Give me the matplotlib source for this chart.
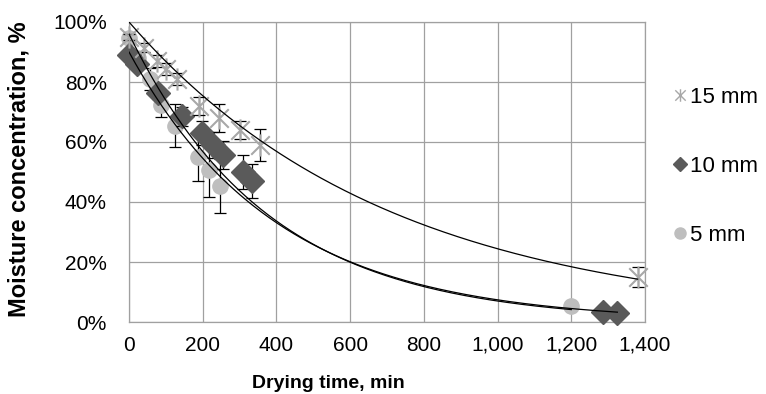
import numpy as np
import matplotlib
matplotlib.use("Agg")
import matplotlib.pyplot as plt
from matplotlib.path import Path
from matplotlib.lines import Line2D
from matplotlib.ticker import FuncFormatter, MultipleLocator

plt.rcParams['font.family'] = ['Liberation Sans', 'DejaVu Sans']

# data (time in min, moisture as fraction)
t_15 = [0, 40, 75, 100, 130, 190, 245, 300, 355, 1380]
m_15 = [0.95, 0.915, 0.87, 0.845, 0.81, 0.72, 0.68, 0.64, 0.59, 0.15]
e_15 = [0.01, 0.015, 0.02, 0.02, 0.02, 0.03, 0.045, 0.03, 0.053, 0.033]

t_10 = [0, 22, 80, 143, 197, 227, 254, 308, 335, 1285, 1325]
m_10 = [0.89, 0.86, 0.765, 0.685, 0.63, 0.59, 0.557, 0.50, 0.47, 0.035, 0.03]
e_10 = [0.01, 0.015, 0.02, 0.03, 0.04, 0.043, 0.047, 0.055, 0.058, 0.01, 0.01]

t_5 = [0, 25, 57, 88, 125, 187, 216, 246, 1200]
m_5 = [0.947, 0.88, 0.81, 0.725, 0.655, 0.55, 0.507, 0.455, 0.055]
e_5 = [0.01, 0.02, 0.035, 0.04, 0.07, 0.08, 0.09, 0.09, 0.005]

# exponential trendlines y = a*exp(-k*t), coefficients
trend_15 = (1.0, 0.00141)
trend_10 = (0.90, 0.0025)
trend_5 = (0.96, 0.00262)

labels = ['15 mm', '10 mm', '5 mm']

# asterisk marker like Excel's (X plus vertical bar)
star = Path([(-1, -1), (1, 1), (-1, 1), (1, -1), (0, -1.2), (0, 1.2)],
            [Path.MOVETO, Path.LINETO, Path.MOVETO, Path.LINETO, Path.MOVETO, Path.LINETO])

fig = plt.figure(figsize=(7.66, 3.94), dpi=100)
ax = fig.add_axes([129/766, 1 - 322/394, 516/766, 300/394])

c_light = '#BEBEBE'
c_dark = '#5A5A5A'
c_star = '#A8A8A8'

# 5 mm circles
ax.errorbar(t_5, m_5, yerr=e_5, fmt='o', ms=11, color=c_light, mec=c_light,
            ecolor='black', elinewidth=0.9, capsize=4, capthick=0.9, zorder=3, clip_on=False)
# 10 mm diamonds
ax.errorbar(t_10, m_10, yerr=e_10, fmt='D', ms=12, color=c_dark, mec=c_dark,
            ecolor='black', elinewidth=0.9, capsize=4, capthick=0.9, zorder=4, clip_on=False)
# 15 mm asterisks
ax.errorbar(t_15, m_15, yerr=e_15, fmt='none', ecolor='black', elinewidth=0.9,
            capsize=4, capthick=0.9, zorder=5, clip_on=False)
ax.plot(t_15, m_15, linestyle='none', marker=star, ms=16, mew=1.5, color=c_star,
        zorder=5, clip_on=False)

# trendlines
for tt, (a, k) in [(t_15, trend_15), (t_10, trend_10), (t_5, trend_5)]:
    xs = np.linspace(min(tt), max(tt), 300)
    ax.plot(xs, a * np.exp(-k * xs), color='black', lw=0.9, zorder=6)

ax.set_xlim(0, 1400)
ax.set_ylim(0, 1)
ax.xaxis.set_major_locator(MultipleLocator(200))
ax.yaxis.set_major_locator(MultipleLocator(0.2))
ax.xaxis.set_major_formatter(FuncFormatter(lambda v, p: f'{v:,.0f}'))
ax.yaxis.set_major_formatter(FuncFormatter(lambda v, p: f'{v*100:.0f}%'))
ax.grid(True, color='#A0A0A0', lw=0.9)
ax.set_axisbelow(True)
for s in ax.spines.values():
    s.set_color('#A0A0A0')
    s.set_linewidth(0.9)
ax.tick_params(length=0, labelsize=15)
ax.tick_params(axis='y', pad=16)
ax.tick_params(axis='x', pad=10)

ax.set_xlabel('Drying time, min', fontsize=14, fontweight='bold')
ax.xaxis.set_label_coords(0.386, -0.175)
ax.set_ylabel('Moisture concentration, %', fontsize=17, fontweight='bold')
ax.yaxis.set_label_coords(-0.19, 0.51)

handles = [
    Line2D([], [], linestyle='none', marker=star, ms=9, mew=1.0, color=c_star),
    Line2D([], [], linestyle='none', marker='D', ms=7, color=c_dark),
    Line2D([], [], linestyle='none', marker='o', ms=8, color=c_light),
]
fig.legend(handles, labels, loc='upper left', bbox_to_anchor=(0.879, 0.779),
           frameon=False, fontsize=16, labelspacing=2.15, handlelength=0.6,
           handletextpad=0.15, borderpad=0, borderaxespad=0)

fig.savefig('out.png', dpi=100)
